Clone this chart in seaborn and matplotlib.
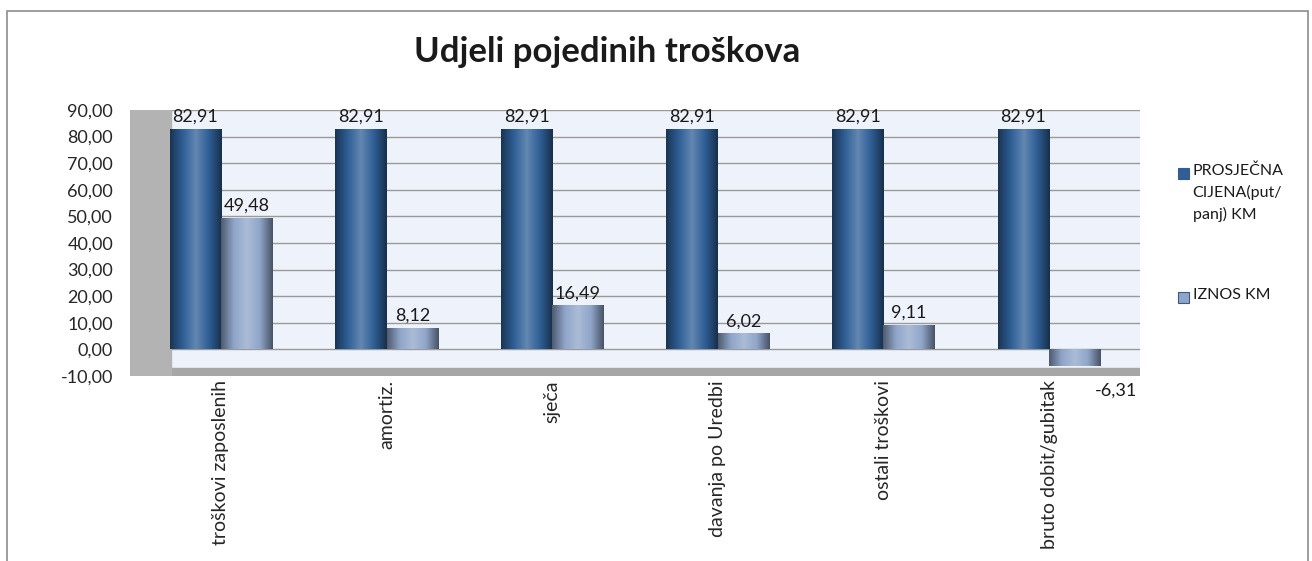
"""
Udjeli pojedinih troškova: grouped bars, two series per cost category.
"""

import matplotlib
matplotlib.use("Agg")
import matplotlib.pyplot as plt
import numpy as np
import pandas as pd
import seaborn as sns
from matplotlib.colors import LinearSegmentedColormap
from matplotlib.patches import Rectangle

kategorije = ["troškovi zaposlenih", "amortiz.", "sječa",
              "davanja po Uredbi", "ostali troškovi", "bruto dobit/gubitak"]
cijena = [82.91, 82.91, 82.91, 82.91, 82.91, 82.91]
iznos = [49.48, 8.12, 16.49, 6.02, 9.11, -6.31]
serije = ["PROSJEČNA\nCIJENA(put/\npanj) KM", "IZNOS KM"]
y_ticks = [-10, 0, 10, 20, 30, 40, 50, 60, 70, 80, 90]

DARK = "#2F5F96"
LIGHT = "#8FA5C9"

sns.set_theme(style="white")
plt.rcParams["font.family"] = ["Lato", "DejaVu Sans"]


def _fmt(v: float) -> str:
    return f"{v:.2f}".replace(".", ",")


def _shade(ax, patch, base):
    """Overlay a horizontal gradient on a bar so it reads as a cylinder."""
    rgb = np.array(matplotlib.colors.to_rgb(base))
    dark = rgb * 0.55
    light = np.clip(rgb + (1 - rgb) * 0.25, 0, 1)
    cmap = LinearSegmentedColormap.from_list(
        "cyl", [dark, rgb, light, rgb, dark * 0.9])
    x0, y0 = patch.get_x(), patch.get_y()
    w, h = patch.get_width(), patch.get_height()
    grad = np.linspace(0, 1, 256).reshape(1, -1)
    im = ax.imshow(grad, extent=[x0, x0 + w, min(y0, y0 + h), max(y0, y0 + h)],
                   aspect="auto", cmap=cmap, zorder=patch.get_zorder() + 0.1,
                   interpolation="bilinear")
    im.set_clip_path(patch)


df = pd.DataFrame({
    "kategorija": kategorije * 2,
    "vrijednost": cijena + iznos,
    "serija": [serije[0]] * len(kategorije) + [serije[1]] * len(kategorije),
})

fig = plt.figure(figsize=(13.12, 5.61), dpi=100)
ax = fig.add_axes([0.099, 0.330, 0.770, 0.474])

sns.barplot(data=df, x="kategorija", y="vrijednost", hue="serija",
            palette=[DARK, LIGHT], width=0.62, ax=ax, legend=False,
            edgecolor="none", zorder=3)

bars = [p for p in ax.patches if p.get_width() > 0]
n = len(kategorije)
for i, patch in enumerate(bars[:2 * n]):
    base = DARK if i < n else LIGHT
    _shade(ax, patch, base)
    val = cijena[i] if i < n else iznos[i - n]
    cx = patch.get_x() + patch.get_width() / 2
    if val >= 0:
        ax.text(cx, val + 1.5, _fmt(val), ha="center", va="bottom",
                fontsize=13, color="#1a1a1a", zorder=5)
    else:
        ax.text(cx + 0.25, -12.5, _fmt(val), ha="center", va="top",
                fontsize=13, color="#1a1a1a", zorder=5, clip_on=False)

ax.set_xlim(-0.55, n - 0.45)
ax.set_ylim(-10, 90)
ax.set_yticks(y_ticks)
ax.set_yticklabels([_fmt(v) for v in y_ticks], fontsize=13)
ax.set_xticks(range(n))
ax.set_xticklabels(kategorije, rotation=90, fontsize=14)
ax.set_xlabel("")
ax.set_ylabel("")
ax.tick_params(axis="x", length=0, pad=3)
ax.tick_params(axis="y", length=0, pad=12)
ax.set_facecolor("#EEF2FA")
ax.yaxis.grid(True, color="#9a9a9a", linewidth=1.0, zorder=0)
ax.set_axisbelow(True)
for s in ax.spines.values():
    s.set_visible(False)

# grey floor strip and side wall, as in the original 3D look
ax.axhspan(-10, -7, color="#A6A6A6", zorder=1)
ax.axvspan(-0.55, -0.3, color="#B3B3B3", zorder=1)

# legend: square markers aligned with the first line of each label
for label, color, ytop in zip(serije, [DARK, LIGHT], [0.708, 0.487]):
    fig.patches.append(Rectangle((0.8975, ytop - 0.027), 0.0085, 0.02,
                                 transform=fig.transFigure, facecolor=color,
                                 edgecolor="#3a5a8a", linewidth=0.8))
    fig.text(0.909, ytop, label, ha="left", va="top", fontsize=11.5,
             linespacing=1.55, color="#1a1a1a")

fig.suptitle("Udjeli pojedinih troškova", x=0.463, y=0.935,
             fontsize=25, fontweight="bold", color="#1a1a1a")

fig.patches.append(Rectangle((0.005, -0.02), 0.992, 1.0, transform=fig.transFigure,
                             fill=False, edgecolor="#8c8c8c", linewidth=1.2))

fig.savefig("out.png", dpi=100)
plt.close(fig)
